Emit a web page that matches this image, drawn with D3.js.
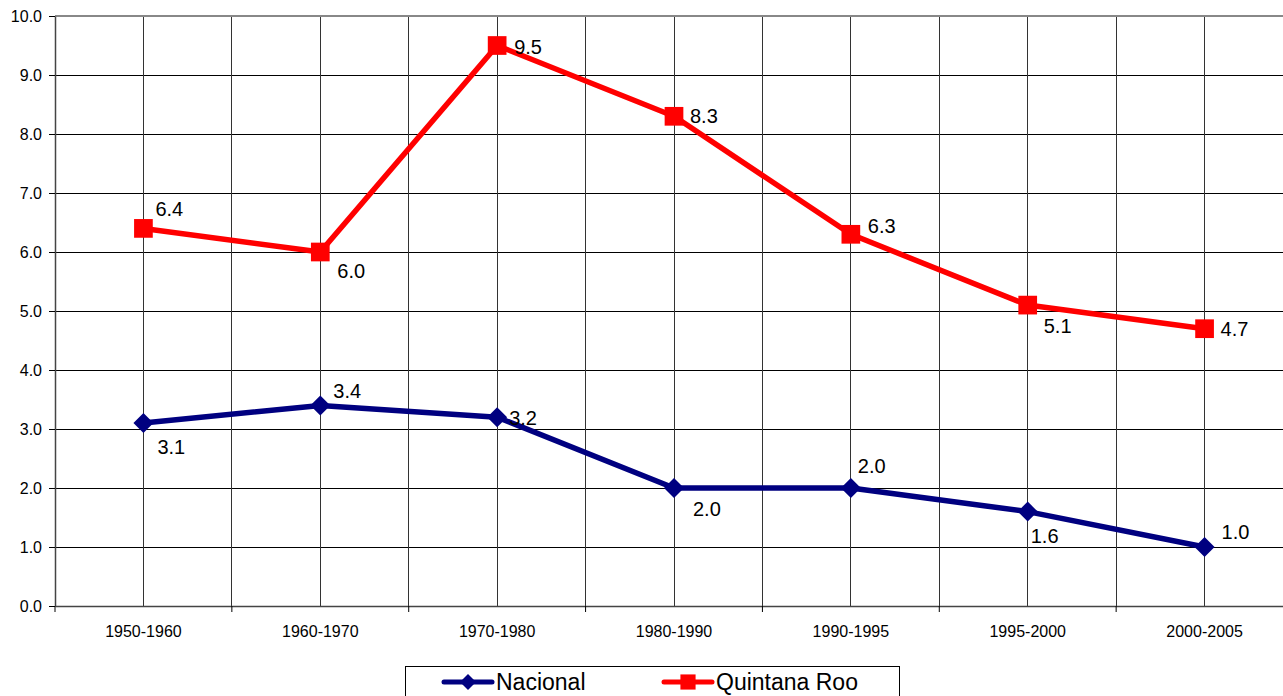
<!DOCTYPE html>
<html>
<head>
<meta charset="utf-8">
<script src="https://cdn.jsdelivr.net/npm/d3@7"></script>
<style>
  body { margin: 0; background: #fff; }
  svg { display: block; font-family: "Liberation Sans", Arial, sans-serif; }
</style>
</head>
<body>
<svg id="chart"></svg>
<script>
const width = 1283;
const height = 696;

// data
const periods = ["1950-1960", "1960-1970", "1970-1980", "1980-1990", "1990-1995", "1995-2000", "2000-2005"];
const nacional = [3.1, 3.4, 3.2, 2.0, 2.0, 1.6, 1.0];
const quintanaRoo = [6.4, 6.0, 9.5, 8.3, 6.3, 5.1, 4.7];
const yTicks = [0, 1, 2, 3, 4, 5, 6, 7, 8, 9, 10];

// label offsets (dx to text start, dy to text middle)
const nacionalLabelDx = [14, 13, 12, 19, 7, 3, 17];
const nacionalLabelDy = [24, -14, 1, 21, -22, 24, -15];
const quintanaLabelDx = [12, 17, 17, 16, 17, 16, 16];
const quintanaLabelDy = [-19, 19, 1, 0, -8, 21, 0];

const margin = { left: 55, top: 16, bottom: 606 };
const plotRight = 1293; // plot runs slightly past the window edge

const svg = d3.select("#chart").attr("width", width).attr("height", height);

const x = d3.scaleBand().domain(periods).range([margin.left, plotRight]);
const y = d3.scaleLinear().domain([0, 10]).range([margin.bottom, margin.top]);
const cx = d => x(d) + x.bandwidth() / 2;

// gridlines
const grid = svg.append("g");
grid.selectAll("line.h")
  .data(yTicks.slice(1, -1))
  .join("line")
  .attr("x1", margin.left).attr("x2", plotRight)
  .attr("y1", d => y(d)).attr("y2", d => y(d))
  .attr("stroke", "#000").attr("stroke-width", 1)
  .attr("shape-rendering", "crispEdges");

const vLines = [];
periods.forEach((p, i) => {
  if (i > 0) vLines.push(x(p));
  vLines.push(cx(p));
});
grid.selectAll("line.v")
  .data(vLines)
  .join("line")
  .attr("x1", d => d).attr("x2", d => d)
  .attr("y1", margin.top).attr("y2", margin.bottom)
  .attr("stroke", "#333").attr("stroke-width", 1)
  .attr("shape-rendering", "crispEdges");

// top border
svg.append("line")
  .attr("x1", margin.left).attr("x2", plotRight)
  .attr("y1", margin.top).attr("y2", margin.top)
  .attr("stroke", "#888").attr("stroke-width", 2);

// y axis
const yAxis = svg.append("g")
  .attr("transform", `translate(${margin.left},0)`)
  .call(d3.axisLeft(y).tickValues(yTicks).tickFormat(d3.format(".1f")).tickSize(6).tickSizeOuter(0));
yAxis.select(".domain").attr("stroke", "#444").attr("stroke-width", 1.5);
yAxis.selectAll(".tick line").attr("stroke", "#000");
yAxis.selectAll(".tick text")
  .attr("font-size", 16).attr("fill", "#000")
  .attr("font-family", "Liberation Sans, Arial, sans-serif")
  .attr("x", -13);

// x axis
const xAxis = svg.append("g")
  .attr("transform", `translate(0,${margin.bottom})`)
  .call(d3.axisBottom(x).tickSize(0).tickSizeOuter(0));
xAxis.select(".domain").attr("stroke", "#444").attr("stroke-width", 1.5);
xAxis.selectAll(".tick text")
  .attr("font-size", 16).attr("fill", "#000")
  .attr("font-family", "Liberation Sans, Arial, sans-serif")
  .attr("dy", "0.35em")
  .attr("y", 25);
xAxis.selectAll("line.bound")
  .data(periods)
  .join("line")
  .attr("class", "bound")
  .attr("x1", d => x(d)).attr("x2", d => x(d))
  .attr("y1", 0).attr("y2", 6)
  .attr("stroke", "#000");

const line = d3.line().x((d, i) => cx(periods[i])).y(d => y(d));

const series = [
  { name: "Nacional", values: nacional, color: "#000080", shape: d3.symbolDiamond, size: 180, dx: nacionalLabelDx, dy: nacionalLabelDy },
  { name: "Quintana Roo", values: quintanaRoo, color: "#FF0000", shape: d3.symbolSquare, size: 350, dx: quintanaLabelDx, dy: quintanaLabelDy }
];

// diamond with equal width/height
const diamond = (r) => {
  const p = d3.path();
  p.moveTo(0, -r); p.lineTo(r, 0); p.lineTo(0, r); p.lineTo(-r, 0); p.closePath();
  return p.toString();
};

series.forEach(s => {
  const g = svg.append("g");
  g.append("path")
    .datum(s.values)
    .attr("d", line)
    .attr("fill", "none")
    .attr("stroke", s.color)
    .attr("stroke-width", 5.5)
    .attr("stroke-linejoin", "round");

  g.selectAll("path.marker")
    .data(s.values)
    .join("path")
    .attr("class", "marker")
    .attr("transform", (d, i) => `translate(${cx(periods[i])},${y(d)})`)
    .attr("d", s.shape === d3.symbolDiamond ? diamond(10) : d3.symbol(s.shape, s.size)())
    .attr("fill", s.color);

  g.selectAll("text.lbl")
    .data(s.values)
    .join("text")
    .attr("class", "lbl")
    .attr("x", (d, i) => cx(periods[i]) + s.dx[i])
    .attr("y", (d, i) => y(d) + s.dy[i])
    .attr("dy", "0.35em")
    .attr("font-size", 20)
    .attr("fill", "#000")
    .text(d => d3.format(".1f")(d));
});

// legend
const legend = svg.append("g");
legend.append("rect")
  .attr("x", 405.5).attr("y", 666.5)
  .attr("width", 494).attr("height", 40)
  .attr("fill", "#fff").attr("stroke", "#000");

const legendX = [444, 664];
series.forEach((s, i) => {
  const lx = legendX[i];
  const ly = 682;
  legend.append("line")
    .attr("x1", lx).attr("x2", lx + 48)
    .attr("y1", ly).attr("y2", ly)
    .attr("stroke", s.color).attr("stroke-width", 5)
    .attr("stroke-linecap", "round");
  legend.append("path")
    .attr("transform", `translate(${lx + 24},${ly})`)
    .attr("d", s.shape === d3.symbolDiamond ? diamond(8) : d3.symbol(s.shape, 230)())
    .attr("fill", s.color);
  legend.append("text")
    .attr("x", lx + 52).attr("y", ly)
    .attr("dy", "0.35em")
    .attr("font-size", 23)
    .attr("fill", "#000")
    .text(s.name);
});
</script>
</body>
</html>
